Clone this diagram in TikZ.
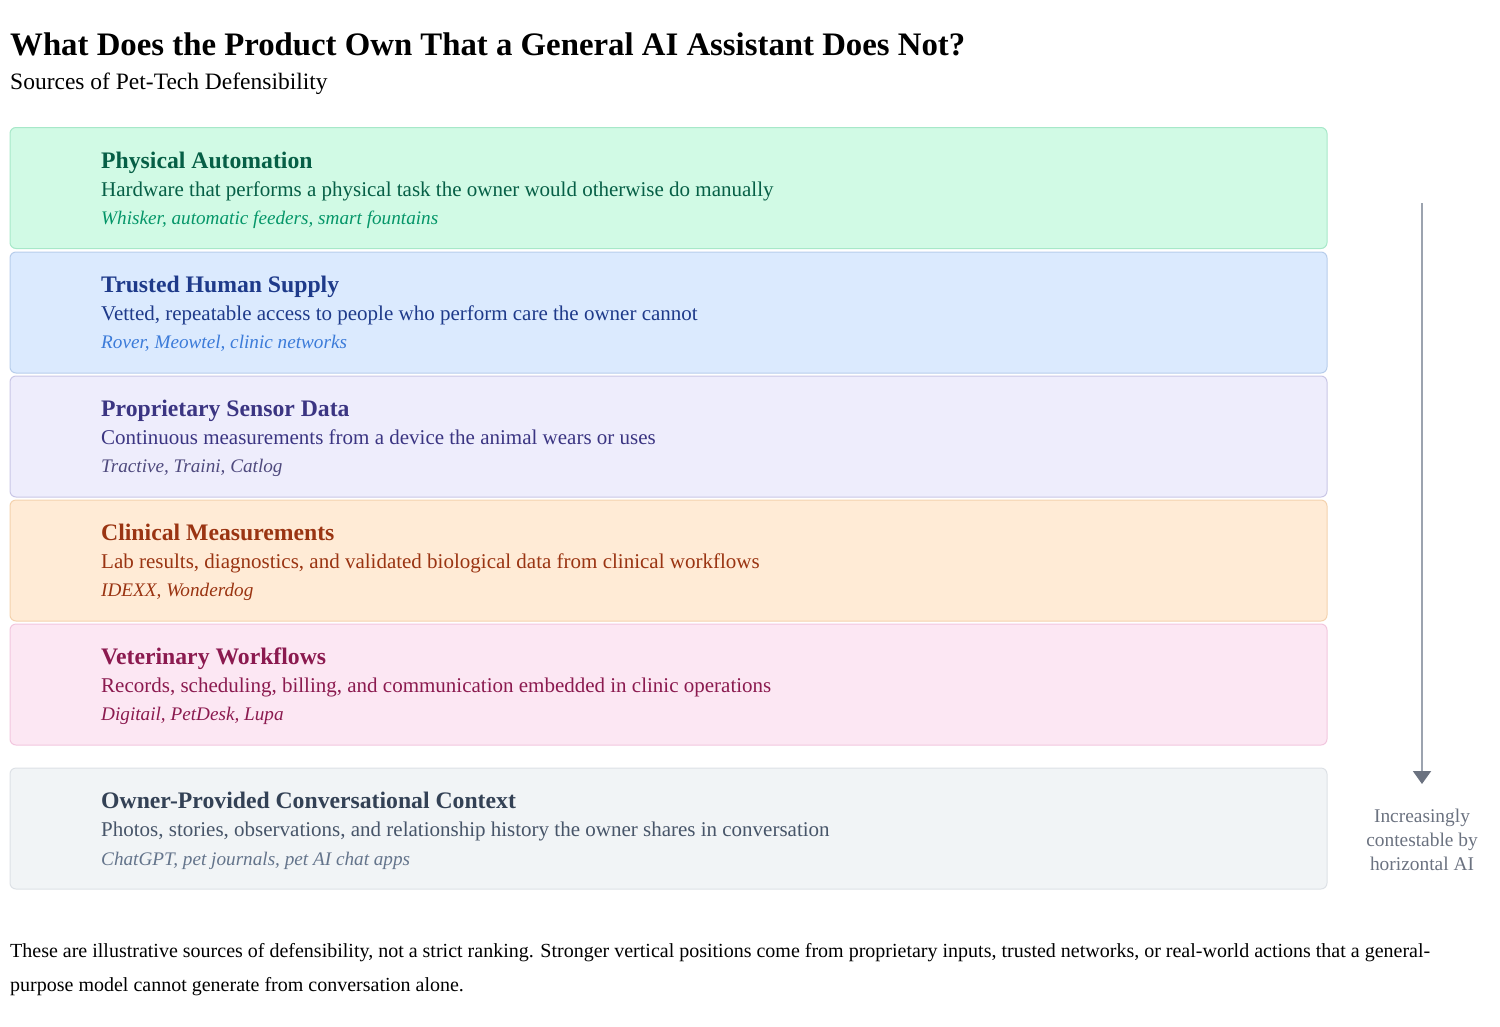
\documentclass[tikz,border=0pt]{standalone}
\usepackage{fontspec}
\setmainfont{Liberation Serif}
\usetikzlibrary{arrows.meta}
\definecolor{gA}{HTML}{D1FAE5}\definecolor{gAb}{HTML}{A7E8C9}\definecolor{gAt}{HTML}{065F46}\definecolor{gAe}{HTML}{059669}
\definecolor{bA}{HTML}{DBEAFE}\definecolor{bAb}{HTML}{B7CDEB}\definecolor{bAt}{HTML}{1E3A8A}\definecolor{bAe}{HTML}{3B7BD9}
\definecolor{pA}{HTML}{EEEDFC}\definecolor{pAb}{HTML}{C9C6E6}\definecolor{pAt}{HTML}{3B3582}\definecolor{pAe}{HTML}{4F4A7E}
\definecolor{oA}{HTML}{FFEBD6}\definecolor{oAb}{HTML}{F4D2AE}\definecolor{oAt}{HTML}{9A3412}\definecolor{oAe}{HTML}{9A3412}
\definecolor{kA}{HTML}{FCE7F3}\definecolor{kAb}{HTML}{F2C6DE}\definecolor{kAt}{HTML}{8B1A4F}\definecolor{kAe}{HTML}{8B1A4F}
\definecolor{sA}{HTML}{F1F4F6}\definecolor{sAb}{HTML}{DDE1E6}\definecolor{sAt}{HTML}{334155}\definecolor{sAd}{HTML}{475569}\definecolor{sAe}{HTML}{64748B}
\definecolor{arrline}{HTML}{9CA3AF}\definecolor{arrhead}{HTML}{6B7280}
\tikzset{
  band/.style={draw=#1b, fill=#1, rounded corners=6pt, line width=1pt, minimum width=1317pt, minimum height=121pt, anchor=north west, inner sep=0pt},
  head/.style={anchor=base west, inner sep=0pt, font=\fontsize{23.7}{27}\selectfont\bfseries},
  desc/.style={anchor=base west, inner sep=0pt, font=\fontsize{21}{25}\selectfont},
  ex/.style={anchor=base west, inner sep=0pt, font=\fontsize{19.2}{23}\selectfont\itshape},
  plain/.style={anchor=base west, inner sep=0pt}
}
\begin{document}
\begin{tikzpicture}[x=1pt,y=-1pt]
\useasboundingbox (0,0) rectangle (1500,1026);
\node[plain, font=\fontsize{32.8}{36}\selectfont\bfseries] (title) at (10,55) {What Does the Product Own That a General AI Assistant Does Not?};
\node[plain, font=\fontsize{23.5}{27}\selectfont] (subtitle) at (10,89) {Sources of Pet-Tech Defensibility};

% boxes
\node[band=gA] (b1) at (9.5,127) {};
\node[head, text=gAt] (b1h) at (101,168) {Physical Automation};
\node[desc, text=gAt] (b1d) at (101,196) {Hardware that performs a physical task the owner would otherwise do manually};
\node[ex, text=gAe] (b1e) at (101,224) {Whisker, automatic feeders, smart fountains};

\node[band=bA] (b2) at (9.5,251.5) {};
\node[head, text=bAt] (b2h) at (101,292) {Trusted Human Supply};
\node[desc, text=bAt] (b2d) at (101,320) {Vetted, repeatable access to people who perform care the owner cannot};
\node[ex, text=bAe] (b2e) at (101,348) {Rover, Meowtel, clinic networks};

\node[band=pA] (b3) at (9.5,375.5) {};
\node[head, text=pAt] (b3h) at (101,416) {Proprietary Sensor Data};
\node[desc, text=pAt] (b3d) at (101,444) {Continuous measurements from a device the animal wears or uses};
\node[ex, text=pAe] (b3e) at (101,472) {Tractive, Traini, Catlog};

\node[band=oA] (b4) at (9.5,499.5) {};
\node[head, text=oAt] (b4h) at (101,540) {Clinical Measurements};
\node[desc, text=oAt] (b4d) at (101,568) {Lab results, diagnostics, and validated biological data from clinical workflows};
\node[ex, text=oAe] (b4e) at (101,596) {IDEXX, Wonderdog};

\node[band=kA] (b5) at (9.5,623.5) {};
\node[head, text=kAt] (b5h) at (101,664) {Veterinary Workflows};
\node[desc, text=kAt] (b5d) at (101,692) {Records, scheduling, billing, and communication embedded in clinic operations};
\node[ex, text=kAe] (b5e) at (101,720) {Digitail, PetDesk, Lupa};

\node[band=sA] (b6) at (9.5,767.5) {};
\node[head, text=sAt] (b6h) at (101,808) {Owner-Provided Conversational Context};
\node[desc, text=sAd] (b6d) at (101,836) {Photos, stories, observations, and relationship history the owner shares in conversation};
\node[ex, text=sAe] (b6e) at (101,865) {ChatGPT, pet journals, pet AI chat apps};

% arrow
\coordinate (atop) at (1422,203);
\coordinate (abot) at (1422,784);
\draw[arrline, line width=2pt, -{Triangle[length=13pt,width=18pt,color=arrhead]}] (atop) -- (abot);
\node[anchor=north, inner sep=0pt, align=center, text=arrhead, font=\fontsize{19.4}{24}\selectfont] (albl) at (1422,809) {Increasingly\\contestable by\\horizontal AI};

% footer
\node[plain, font=\fontsize{20}{23}\selectfont] (foot1) at (10,957) {These are illustrative sources of defensibility, not a strict ranking. Stronger vertical positions come from proprietary inputs, trusted networks, or real-world actions that a general-};
\node[plain, font=\fontsize{20}{23}\selectfont] (foot2) at (10,991) {purpose model cannot generate from conversation alone.};
\end{tikzpicture}
\end{document}
